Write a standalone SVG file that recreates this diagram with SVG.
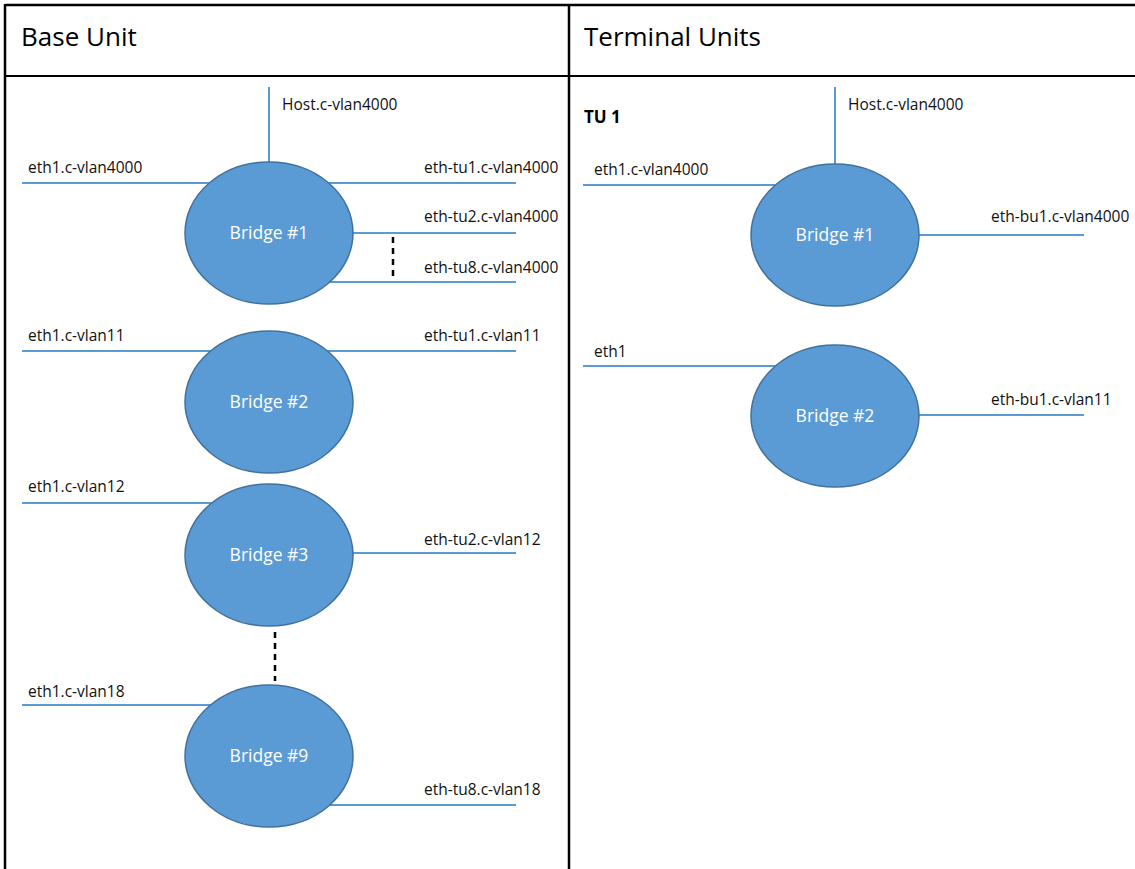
<svg xmlns="http://www.w3.org/2000/svg" width="1135" height="869" viewBox="0 0 1135 869">
<style>
.bg{fill:#ffffff}
.border{stroke:#000;stroke-width:2.5;fill:none}
.hdr{font-family:"Open Sans","Liberation Sans",sans-serif;font-size:26px;fill:#000}
.lbl{font-family:"Open Sans","Liberation Sans",sans-serif;font-size:15.5px;fill:#111}
.tu{font-family:"Open Sans","Liberation Sans",sans-serif;font-size:17px;font-weight:bold;fill:#000}
.br{fill:#5B9BD5;stroke:#41719C;stroke-width:1.5}
.brt{font-family:"Open Sans","Liberation Sans",sans-serif;font-size:17.5px;fill:#ffffff;text-anchor:middle}
.ln{stroke:#5B9BD5;stroke-width:2;fill:none}
.dash{stroke:#000;stroke-width:2.5;stroke-dasharray:6,5;fill:none}
</style>
<rect class="bg" x="0" y="0" width="1135" height="869"/>
<g id="table">
<line class="border" x1="5" y1="5" x2="1135" y2="5"/>
<line class="border" x1="5" y1="4" x2="5" y2="869"/>
<line class="border" x1="5" y1="76" x2="1135" y2="76" style="stroke-width:2"/>
<line class="border" x1="569" y1="4" x2="569" y2="869"/>
<text class="hdr" x="21" y="46">Base Unit</text>
<text class="hdr" x="584" y="46">Terminal Units</text>
</g>
<g id="connectors">
<line class="ln" x1="269" y1="87" x2="269" y2="162"/>
<line class="ln" x1="22" y1="183" x2="209" y2="183"/>
<line class="ln" x1="329" y1="183" x2="516" y2="183"/>
<line class="ln" x1="353" y1="233" x2="516" y2="233"/>
<line class="ln" x1="330" y1="282" x2="516" y2="282"/>
<line class="dash" x1="393" y1="237" x2="393" y2="280"/>
<line class="ln" x1="22" y1="351" x2="211" y2="351"/>
<line class="ln" x1="327" y1="351" x2="516" y2="351"/>
<line class="ln" x1="22" y1="503" x2="212" y2="503"/>
<line class="ln" x1="353" y1="553" x2="516" y2="553"/>
<line class="dash" x1="275" y1="632" x2="275" y2="681"/>
<line class="ln" x1="22" y1="705" x2="211" y2="705"/>
<line class="ln" x1="330" y1="805" x2="516" y2="805"/>
<line class="ln" x1="835" y1="87" x2="835" y2="164"/>
<line class="ln" x1="583" y1="185" x2="775" y2="185"/>
<line class="ln" x1="919" y1="235" x2="1084" y2="235"/>
<line class="ln" x1="583" y1="366" x2="775" y2="366"/>
<line class="ln" x1="919" y1="415" x2="1084" y2="415"/>
</g>
<g id="base-bridge1">
<ellipse class="br" cx="269" cy="233" rx="84" ry="71"/>
<text class="brt" x="269" y="239">Bridge #1</text>
</g>
<g id="base-bridge2">
<ellipse class="br" cx="269" cy="402" rx="84" ry="71"/>
<text class="brt" x="269" y="408">Bridge #2</text>
</g>
<g id="base-bridge3">
<ellipse class="br" cx="269" cy="555" rx="84" ry="71"/>
<text class="brt" x="269" y="561">Bridge #3</text>
</g>
<g id="base-bridge9">
<ellipse class="br" cx="269" cy="756" rx="84" ry="71"/>
<text class="brt" x="269" y="762">Bridge #9</text>
</g>
<g id="tu-bridge1">
<ellipse class="br" cx="835" cy="235" rx="84" ry="71"/>
<text class="brt" x="835" y="241">Bridge #1</text>
</g>
<g id="tu-bridge2">
<ellipse class="br" cx="835" cy="416" rx="84" ry="71"/>
<text class="brt" x="835" y="422">Bridge #2</text>
</g>
<g id="labels">
<text class="lbl" x="282" y="110">Host.c-vlan4000</text>
<text class="lbl" x="28" y="173">eth1.c-vlan4000</text>
<text class="lbl" x="424" y="173">eth-tu1.c-vlan4000</text>
<text class="lbl" x="424" y="222">eth-tu2.c-vlan4000</text>
<text class="lbl" x="424" y="273">eth-tu8.c-vlan4000</text>
<text class="lbl" x="28" y="341">eth1.c-vlan11</text>
<text class="lbl" x="424" y="341">eth-tu1.c-vlan11</text>
<text class="lbl" x="28" y="492">eth1.c-vlan12</text>
<text class="lbl" x="424" y="545">eth-tu2.c-vlan12</text>
<text class="lbl" x="28" y="697">eth1.c-vlan18</text>
<text class="lbl" x="424" y="795">eth-tu8.c-vlan18</text>
<text class="tu" x="584" y="123">TU 1</text>
<text class="lbl" x="848" y="110">Host.c-vlan4000</text>
<text class="lbl" x="594" y="175">eth1.c-vlan4000</text>
<text class="lbl" x="991" y="222">eth-bu1.c-vlan4000</text>
<text class="lbl" x="594" y="357">eth1</text>
<text class="lbl" x="991" y="405">eth-bu1.c-vlan11</text>
</g>
</svg>
